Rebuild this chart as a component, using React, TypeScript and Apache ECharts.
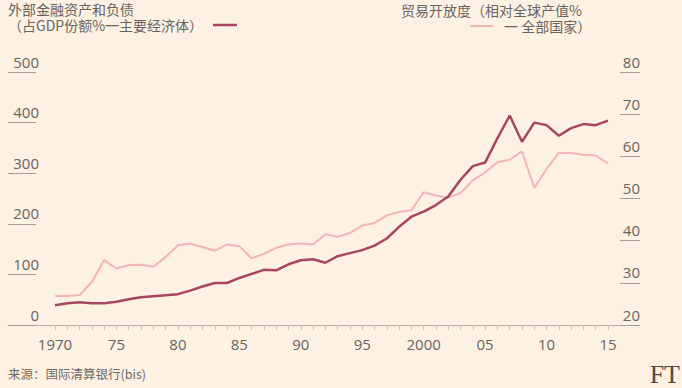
import React, { useEffect, useRef } from "react";
import * as echarts from "echarts";

const years = [
  1970, 1971, 1972, 1973, 1974, 1975, 1976, 1977, 1978, 1979,
  1980, 1981, 1982, 1983, 1984, 1985, 1986, 1987, 1988, 1989,
  1990, 1991, 1992, 1993, 1994, 1995, 1996, 1997, 1998, 1999,
  2000, 2001, 2002, 2003, 2004, 2005, 2006, 2007, 2008, 2009,
  2010, 2011, 2012, 2013, 2014, 2015,
];

// External financial assets and liabilities (% of GDP, major economies) - left axis
const financial = [
  39, 43, 45, 43, 43, 46, 51, 55, 57, 59,
  61, 68, 76, 83, 83, 93, 101, 109, 108, 120,
  128, 130, 123, 136, 142, 148, 157, 171, 194, 214,
  224, 237, 254, 287, 314, 321, 369, 414, 362, 400,
  395, 374, 389, 397, 395, 404,
];

// Trade openness (% of world output, all countries) - right axis
const trade = [
  26.9, 26.9, 27.1, 30.2, 35.4, 33.4, 34.2, 34.3, 33.8, 36.1,
  38.9, 39.3, 38.5, 37.6, 39.1, 38.7, 35.8, 36.9, 38.3, 39.1,
  39.3, 39.1, 41.5, 40.9, 41.8, 43.6, 44.2, 46.0, 46.8, 47.2,
  51.5, 50.7, 50.2, 51.3, 54.3, 56.2, 58.6, 59.2, 61.2, 52.5,
  57.0, 60.8, 60.8, 60.4, 60.2, 58.3,
];

const xLabelYears = [1970, 1975, 1980, 1985, 1990, 1995, 2000, 2005, 2010, 2015];
const xLabelTexts = ["1970", "75", "80", "85", "90", "95", "2000", "05", "10", "15"];

const leftTitle1 = "外部金融资产和负债";
const leftTitle2 = "（占GDP份额%一主要经济体）";
const rightTitle1 = "贸易开放度（相对全球产值%";
const rightTitle2 = "一 全部国家）";
const sourceText = "来源：国际清算银行(bis)";
const brandText = "FT";

const DARK = "#a8465f";
const LIGHT = "#f3b3b8";
const TEXT = "#6a635e";
const NUM_FONT = "'Open Sans', 'Noto Sans', sans-serif";
const CJK_FONT = "'Noto Sans CJK SC', 'Noto Sans', sans-serif";

export default function App() {
  const ref = useRef<HTMLDivElement>(null);

  useEffect(() => {
    if (!ref.current) return;
    const chart = echarts.init(ref.current, null, { renderer: "svg" });

    const labelMap: Record<number, string> = {};
    xLabelYears.forEach((y, i) => (labelMap[y] = xLabelTexts[i]));

    const option: any = {
      animation: false,
      backgroundColor: "#fdf1e4",
      grid: [
        { left: 55, right: 74, top: 72, bottom: 63 },
        { left: 8, right: 43, top: 72, bottom: 63 },
      ],
      xAxis: [
        {
          type: "value",
          gridIndex: 0,
          min: 1970,
          max: 2015,
          interval: 1,
          axisLine: { show: false },
          axisTick: { show: true, length: 5, lineStyle: { color: "#c9beb3", width: 1 } },
          splitLine: { show: false },
          axisLabel: {
            margin: 11,
            fontSize: 15,
            fontFamily: NUM_FONT,
            color: TEXT,
            formatter: (v: number) => labelMap[v] ?? "",
          },
        },
        {
          type: "value",
          gridIndex: 1,
          min: 0,
          max: 1,
          axisLine: { show: true, lineStyle: { color: "#b8aea4", width: 1 } },
          axisTick: { show: false },
          axisLabel: { show: false },
          splitLine: { show: false },
        },
      ],
      yAxis: [
        {
          type: "value",
          gridIndex: 0,
          position: "left",
          min: 0,
          max: 500,
          interval: 100,
          offset: 19,
          axisLine: { show: false },
          axisTick: { show: true, length: 28, lineStyle: { color: "#a59c93", width: 1 } },
          splitLine: { show: false },
          axisLabel: {
            margin: -3,
            fontSize: 15,
            fontFamily: NUM_FONT,
            color: TEXT,
            verticalAlign: "bottom",
            padding: [0, 0, 3, 0],
          },
        },
        {
          type: "value",
          gridIndex: 0,
          position: "right",
          min: 20,
          max: 80,
          interval: 10,
          offset: 12,
          axisLine: { show: false },
          axisTick: { show: true, length: 20, lineStyle: { color: "#a59c93", width: 1 } },
          splitLine: { show: false },
          axisLabel: {
            margin: 20,
            align: "right",
            fontSize: 15,
            fontFamily: NUM_FONT,
            color: TEXT,
            verticalAlign: "bottom",
            padding: [0, 0, 3, 0],
          },
        },
        {
          type: "value",
          gridIndex: 1,
          show: false,
        },
      ],
      series: [
        {
          type: "line",
          xAxisIndex: 0,
          yAxisIndex: 1,
          data: years.map((y, i) => [y, trade[i]]),
          showSymbol: false,
          lineStyle: { color: LIGHT, width: 2 },
          z: 2,
        },
        {
          type: "line",
          xAxisIndex: 0,
          yAxisIndex: 0,
          data: years.map((y, i) => [y, financial[i]]),
          showSymbol: false,
          lineStyle: { color: DARK, width: 2.5 },
          z: 3,
        },
      ],
      graphic: [
        {
          type: "text",
          x: 8,
          y: 1,
          style: {
            text: leftTitle1 + "\n" + leftTitle2,
            fontSize: 14,
            lineHeight: 16,
            fontFamily: CJK_FONT,
            fill: TEXT,
            verticalAlign: "top",
          },
        },
        {
          type: "line",
          shape: { x1: 213, y1: 25, x2: 237, y2: 25 },
          style: { stroke: DARK, lineWidth: 2.5 },
        },
        {
          type: "text",
          x: 401,
          y: 2,
          style: {
            text: "{a|" + rightTitle1 + "}\n{b|" + rightTitle2 + "}",
            fontSize: 14,
            lineHeight: 16,
            fontFamily: CJK_FONT,
            fill: TEXT,
            verticalAlign: "top",
            rich: {
              a: { fontSize: 14, lineHeight: 16, fontFamily: CJK_FONT, fill: TEXT },
              b: {
                fontSize: 14,
                lineHeight: 16,
                fontFamily: CJK_FONT,
                fill: TEXT,
                padding: [0, 0, 0, 103],
              },
            },
          },
        },
        {
          type: "line",
          shape: { x1: 470, y1: 26, x2: 493, y2: 26 },
          style: { stroke: LIGHT, lineWidth: 2 },
        },
        {
          type: "text",
          x: 8,
          y: 373,
          style: {
            text: sourceText,
            fontSize: 12.5,
            fontFamily: CJK_FONT,
            fill: "#716a65",
            verticalAlign: "middle",
          },
        },
        {
          type: "text",
          x: 680,
          y: 374,
          style: {
            text: brandText,
            fontSize: 26,
            fontFamily: "'Liberation Serif', 'DejaVu Serif', serif",
            fill: "#4f4a46",
            align: "right",
            verticalAlign: "middle",
          },
        },
      ],
    };

    chart.setOption(option);
    return () => chart.dispose();
  }, []);

  return (
    <div
      ref={ref}
      style={{ width: 682, height: 388, position: "fixed", left: 0, top: 0 }}
    />
  );
}
